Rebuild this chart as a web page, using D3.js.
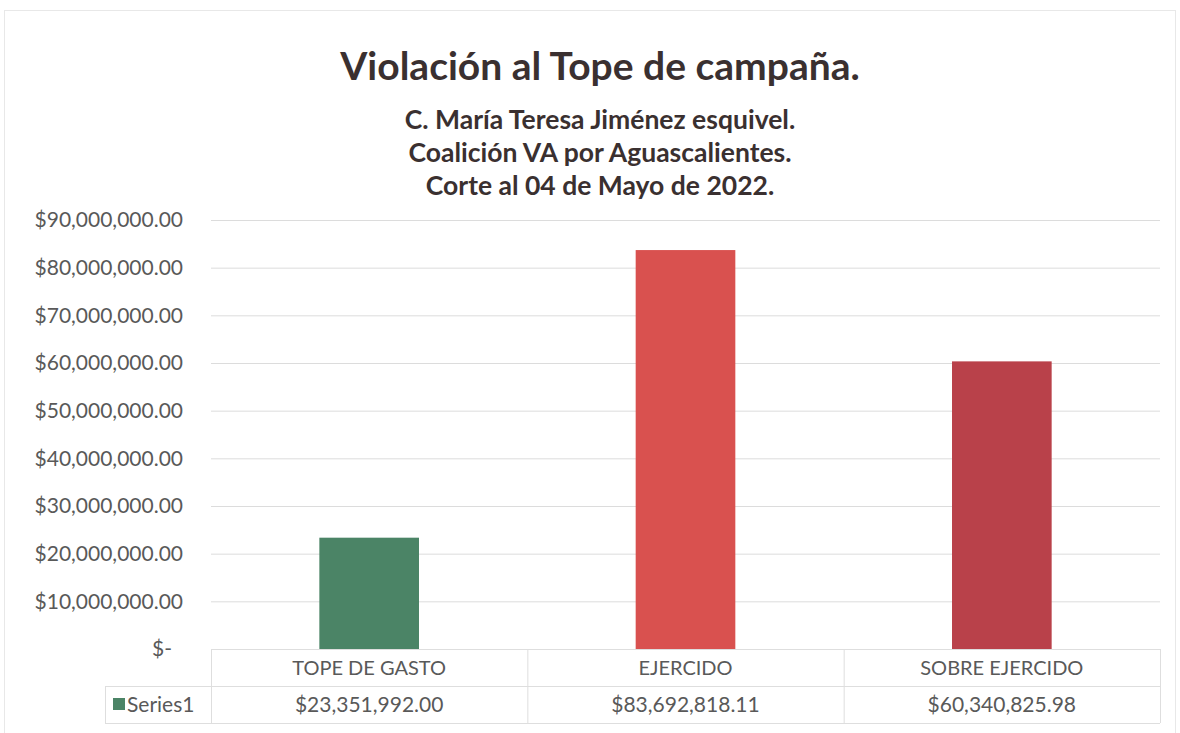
<!DOCTYPE html>
<html>
<head>
<meta charset="utf-8">
<script src="https://cdn.jsdelivr.net/npm/d3@7"></script>
<style>
  body { margin: 0; background: #fff; }
  svg { display: block; font-family: Lato, "Open Sans", sans-serif; }
</style>
</head>
<body>
<svg id="chart"></svg>
<script>
// chart data
const categories = ["TOPE DE GASTO", "EJERCIDO", "SOBRE EJERCIDO"];
const values = [23351992.00, 83692818.11, 60340825.98];
const valueLabels = ["$23,351,992.00", "$83,692,818.11", "$60,340,825.98"];
const barColors = ["#4b8466", "#d9514f", "#b9414a"];
const yTicks = [0, 10000000, 20000000, 30000000, 40000000, 50000000, 60000000, 70000000, 80000000, 90000000];
const seriesName = "Series1";
const chartTitle = "Violación al Tope de campaña.";
const titleLines = ["C. María Teresa Jiménez esquivel.", "Coalición VA por Aguascalientes.", "Corte al 04 de Mayo de 2022."];

const width = 1180, height = 733;
const margin = { top: 220, right: 20, bottom: 84, left: 211 };
const innerW = width - margin.left - margin.right;
const innerH = height - margin.top - margin.bottom;

const svg = d3.select("#chart")
    .attr("width", width)
    .attr("height", height);

//faint outer frame of the chart area
svg.append("rect")
    .attr("x", 4.5).attr("y", 10.5)
    .attr("width", 1171).attr("height", 740)
    .attr("fill", "none")
    .attr("stroke", "#e8e8e8");

//titles
svg.append("text")
    .attr("x", 600).attr("y", 80)
    .attr("text-anchor", "middle")
    .style("font-size", "39px")
    .style("font-weight", "bold")
    .style("fill", "#3a3030")
    .text(chartTitle);

svg.selectAll("text.sub")
    .data(titleLines)
    .join("text")
    .attr("class", "sub")
    .attr("x", 600)
    .attr("y", (d, i) => 129 + i * 33)
    .attr("text-anchor", "middle")
    .style("font-size", "26.5px")
    .style("font-weight", "bold")
    .style("fill", "#3a3030")
    .text(d => d);

const g = svg.append("g")
    .attr("transform", `translate(${margin.left},${margin.top})`);

const x = d3.scaleBand()
    .domain(categories)
    .range([0, innerW])
    .paddingInner(0)
    .paddingOuter(0);

const y = d3.scaleLinear()
    .domain([0, 90000000])
    .range([innerH, 0]);

//grid
g.append("g")
    .call(d3.axisLeft(y).tickValues(yTicks).tickSize(-innerW).tickFormat(""))
    .call(s => s.select(".domain").remove())
    .call(s => s.selectAll("line").attr("stroke", "#dcdcdc"));

//y labels
const fmt = d3.format(",.2f");
g.append("g")
    .attr("class", "yaxis")
    .call(d3.axisLeft(y).tickValues(yTicks).tickSize(0).tickPadding(28)
        .tickFormat(d => d === 0 ? "$-" : "$" + fmt(d)))
    .call(s => s.select(".domain").remove())
    .call(s => s.selectAll("text")
        .style("font-size", "21px")
        .style("fill", "#595959")
        .style("font-family", "Lato, 'Open Sans', sans-serif"));
g.selectAll(".yaxis g.tick text").filter(d => d === 0).attr("dx", -11);

//bars
const barW = x.bandwidth() * 0.315;
g.selectAll("rect.bar")
    .data(values)
    .join("rect")
    .attr("class", "bar")
    .attr("x", (d, i) => x(categories[i]) + (x.bandwidth() - barW) / 2)
    .attr("y", d => y(d))
    .attr("width", barW)
    .attr("height", d => innerH - y(d))
    .attr("fill", (d, i) => barColors[i]);

//data table under the plot
const rowH = 37;
const tableLeft = -106;
const t = g.append("g").attr("transform", `translate(0,${innerH})`);
const lineColor = "#dedede";

t.append("line").attr("x1", 0).attr("x2", innerW).attr("y1", 0.5).attr("y2", 0.5).attr("stroke", lineColor);
t.append("line").attr("x1", tableLeft).attr("x2", innerW).attr("y1", rowH + 0.5).attr("y2", rowH + 0.5).attr("stroke", lineColor);
t.append("line").attr("x1", tableLeft).attr("x2", innerW).attr("y1", rowH * 2 + 0.5).attr("y2", rowH * 2 + 0.5).attr("stroke", lineColor);
t.append("line").attr("x1", tableLeft + 0.5).attr("x2", tableLeft + 0.5).attr("y1", rowH).attr("y2", rowH * 2).attr("stroke", lineColor);

const bounds = [0].concat(categories.map(c => x(c) + x.bandwidth()));
t.selectAll("line.vcol")
    .data(bounds)
    .join("line")
    .attr("class", "vcol")
    .attr("x1", d => d + 0.5).attr("x2", d => d + 0.5)
    .attr("y1", 0).attr("y2", rowH * 2)
    .attr("stroke", lineColor);

t.selectAll("text.cat")
    .data(categories)
    .join("text")
    .attr("class", "cat")
    .attr("x", d => x(d) + x.bandwidth() / 2)
    .attr("y", 26)
    .attr("text-anchor", "middle")
    .style("font-size", "20px")
    .style("fill", "#595959")
    .text(d => d);

t.selectAll("text.val")
    .data(valueLabels)
    .join("text")
    .attr("class", "val")
    .attr("x", (d, i) => x(categories[i]) + x.bandwidth() / 2)
    .attr("y", rowH + 26)
    .attr("text-anchor", "middle")
    .style("font-size", "21px")
    .style("fill", "#595959")
    .text(d => d);

//legend key in the table
t.append("rect")
    .attr("x", tableLeft + 8).attr("y", rowH + 12)
    .attr("width", 12).attr("height", 12)
    .attr("fill", barColors[0]);
t.append("text")
    .attr("x", tableLeft + 22).attr("y", rowH + 26)
    .style("font-size", "21px")
    .style("fill", "#595959")
    .text(seriesName);
</script>
</body>
</html>
